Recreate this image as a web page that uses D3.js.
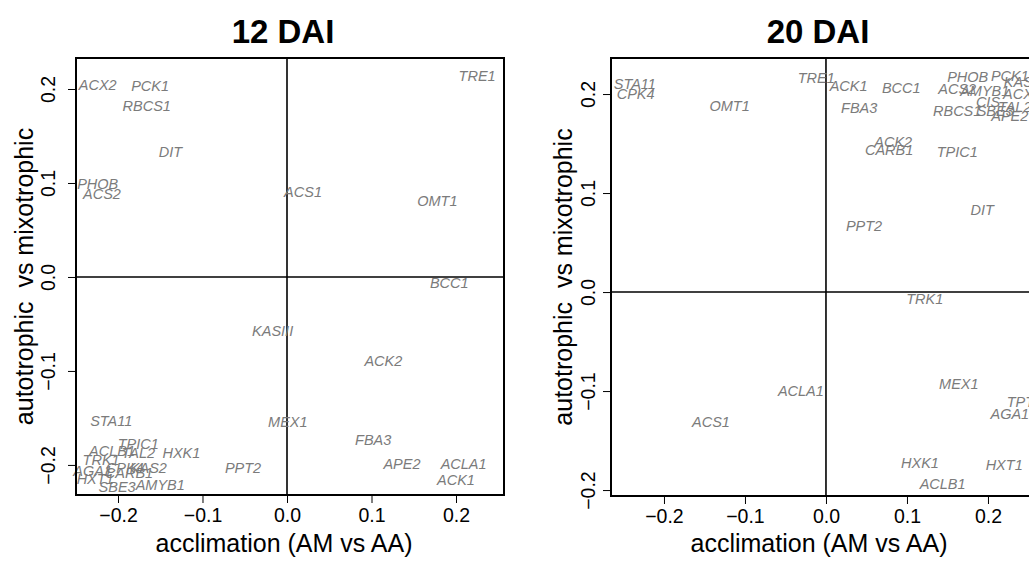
<!DOCTYPE html>
<html>
<head>
<meta charset="utf-8">
<script src="https://cdn.jsdelivr.net/npm/d3@7"></script>
<style>
  html, body { margin: 0; padding: 0; background: #fff; }
  svg { display: block; font-family: "Liberation Sans", Arial, Helvetica, sans-serif; }
</style>
</head>
<body>
<svg id="chart" width="1029" height="563"></svg>
<script>
// ---------- data ----------
const panelTitles = ["12 DAI", "20 DAI"];
const xTitle = "acclimation (AM vs AA)";
const yTitle = "autotrophic  vs mixotrophic";
const tickValues = [-0.2, -0.1, 0.0, 0.1, 0.2];

const genes12 = ["ACX2","PCK1","RBCS1","DIT","PHOB","ACS2","TRE1","ACS1","OMT1","BCC1",
  "KASIII","ACK2","STA11","MEX1","FBA3","TPIC1","ACLB1","TAL2","HXK1","TRK1",
  "CPK4","KAS2","AGA1","CARB1","HXT1","SBE3","AMYB1","PPT2","APE2","ACLA1","ACK1"];
const x12 = [-0.224,-0.162,-0.166,-0.138,-0.224,-0.219,0.225,0.019,0.178,0.192,
  -0.017,0.114,-0.208,0.001,0.102,-0.176,-0.207,-0.176,-0.125,-0.220,
  -0.192,-0.164,-0.230,-0.187,-0.227,-0.201,-0.150,-0.052,0.136,0.209,0.200];
const y12 = [0.204,0.203,0.182,0.133,0.099,0.089,0.214,0.091,0.081,-0.006,
  -0.057,-0.089,-0.153,-0.154,-0.173,-0.177,-0.185,-0.187,-0.187,-0.195,
  -0.203,-0.203,-0.206,-0.208,-0.215,-0.223,-0.221,-0.203,-0.199,-0.199,-0.216];

const genes20 = ["STA11","CPK4","OMT1","TRE1","ACK1","BCC1","FBA3","PHOB","PCK1","KASIII",
  "ACS2","AMYB1","ACX2","CIS","TAL2","RBCS1","SBE3","APE2","ACK2","CARB1",
  "TPIC1","DIT","PPT2","TRK1","ACLA1","ACS1","MEX1","TPT","AGA1","HXK1","HXT1","ACLB1"];
const x20 = [-0.236,-0.235,-0.119,-0.012,0.028,0.093,0.041,0.175,0.227,0.245,
  0.162,0.196,0.242,0.200,0.233,0.162,0.209,0.227,0.083,0.078,
  0.162,0.193,0.047,0.122,-0.031,-0.142,0.164,0.240,0.227,0.116,0.220,0.144];
const y20 = [0.210,0.200,0.188,0.216,0.208,0.206,0.186,0.217,0.218,0.212,
  0.205,0.203,0.200,0.192,0.187,0.183,0.183,0.178,0.152,0.144,
  0.142,0.083,0.067,-0.007,-0.100,-0.131,-0.093,-0.111,-0.123,-0.172,-0.174,-0.194];

const xDomains = [[-0.2497, 0.2568], [-0.2654, 0.2630]];
const yDomains = [[-0.232, 0.233], [-0.206, 0.2364]];

// ---------- layout ----------
const panels = [
  { left: 76, right: 504, top: 58, bottom: 495, tickLabX: 55, yTitleX: 33, titleX: 283,
    genes: genes12, xs: x12, ys: y12 },
  { left: 611, right: 1039, top: 58, bottom: 496, tickLabX: 595, yTitleX: 572, titleX: 818,
    genes: genes20, xs: x20, ys: y20 }
];

const svg = d3.select("#chart");
const fmt = v => (v < 0 ? "\u2212" : "") + Math.abs(v).toFixed(1);

panels.forEach((p, i) => {
  const x = d3.scaleLinear().domain(xDomains[i]).range([p.left, p.right]);
  const y = d3.scaleLinear().domain(yDomains[i]).range([p.bottom, p.top]);
  const g = svg.append("g");

  // title
  g.append("text")
    .attr("x", p.titleX)
    .attr("y", 43)
    .attr("text-anchor", "middle")
    .attr("font-weight", "bold")
    .attr("font-size", 33)
    .attr("fill", "#000")
    .text(panelTitles[i]);

  // x axis
  const xAxis = d3.axisBottom(x).tickValues(tickValues).tickSize(8).tickFormat(fmt);
  const xa = g.append("g").attr("transform", `translate(0,${p.bottom})`).call(xAxis);
  xa.select(".domain").remove();
  xa.selectAll(".tick line").attr("stroke", "#000").attr("stroke-width", 1);
  xa.selectAll(".tick text").attr("font-size", 19.5).attr("fill", "#000")
    .attr("font-family", "Liberation Sans, Arial, sans-serif")
    .attr("y", 13).attr("dy", "0.71em");

  // y axis
  const yAxis = d3.axisLeft(y).tickValues(tickValues).tickSize(8).tickFormat(fmt);
  const ya = g.append("g").attr("transform", `translate(${p.left},0)`).call(yAxis);
  ya.select(".domain").remove();
  ya.selectAll(".tick line").attr("stroke", "#000").attr("stroke-width", 1);
  ya.selectAll(".tick text")
    .attr("font-size", 19.5).attr("fill", "#000")
    .attr("font-family", "Liberation Sans, Arial, sans-serif")
    .attr("x", null).attr("dy", null)
    .attr("text-anchor", "middle")
    .attr("transform", `translate(${p.tickLabX - p.left},0) rotate(-90)`);

  // axis titles
  g.append("text")
    .attr("x", (p.left + p.right) / 2 - 6)
    .attr("y", 552)
    .attr("text-anchor", "middle")
    .attr("font-size", 25)
    .attr("fill", "#000")
    .text(xTitle);
  g.append("text")
    .attr("transform", `translate(${p.yTitleX},${(p.top + p.bottom) / 2}) rotate(-90)`)
    .attr("text-anchor", "middle")
    .attr("font-size", 25)
    .attr("fill", "#000")
    .attr("xml:space", "preserve")
    .style("white-space", "pre")
    .text(yTitle);

  // zero reference lines
  g.append("line")
    .attr("x1", x(0)).attr("x2", x(0))
    .attr("y1", p.top).attr("y2", p.bottom)
    .attr("stroke", "#000").attr("stroke-width", 1.6);
  g.append("line")
    .attr("x1", p.left).attr("x2", p.right)
    .attr("y1", y(0)).attr("y2", y(0))
    .attr("stroke", "#000").attr("stroke-width", 1.6);

  // gene labels
  g.append("g").selectAll("text")
    .data(p.genes.map((name, k) => ({ name, vx: p.xs[k], vy: p.ys[k] })))
    .join("text")
    .attr("x", d => x(d.vx))
    .attr("y", d => y(d.vy))
    .attr("dy", "0.36em")
    .attr("text-anchor", "middle")
    .attr("font-size", 14.5)
    .attr("font-style", "italic")
    .attr("fill", "#7b7b7b")
    .text(d => d.name);

  // box
  g.append("rect")
    .attr("x", p.left).attr("y", p.top)
    .attr("width", p.right - p.left).attr("height", p.bottom - p.top)
    .attr("fill", "none").attr("stroke", "#000").attr("stroke-width", 2);
});
</script>
</body>
</html>
